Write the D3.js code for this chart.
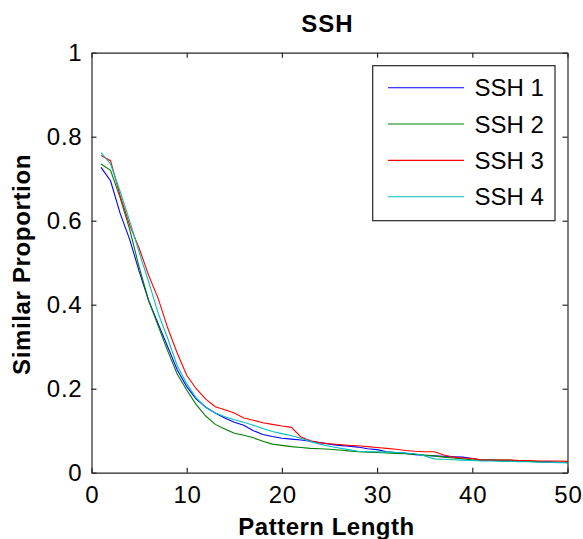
<!DOCTYPE html>
<html>
<head>
<meta charset="utf-8">
<script src="https://cdn.jsdelivr.net/npm/d3@7"></script>
<style>
  html, body { margin: 0; padding: 0; background: #fff; }
  svg { display: block; font-family: "Liberation Sans", Arial, sans-serif; }
</style>
</head>
<body>
<svg id="chart" width="583" height="539"></svg>
<script>
const title = "SSH";
const xLabel = "Pattern Length";
const yLabel = "Similar Proportion";
const seriesNames = ["SSH 1", "SSH 2", "SSH 3", "SSH 4"];
const seriesColors = ["#0000ff", "#008000", "#ff0000", "#00bfbf"];
const xTicks = [0, 10, 20, 30, 40, 50];
const yTicks = [0, 0.2, 0.4, 0.6, 0.8, 1];
const patternLength = d3.range(1, 51);

const ssh1 = [0.727, 0.695, 0.618, 0.556, 0.480, 0.410, 0.355, 0.300, 0.245, 0.205,
  0.175, 0.156, 0.142, 0.130, 0.120, 0.113, 0.100, 0.091, 0.086, 0.082,
  0.080, 0.078, 0.075, 0.072, 0.068, 0.065, 0.063, 0.061, 0.057, 0.055,
  0.050, 0.048, 0.046, 0.043, 0.041, 0.040, 0.039, 0.038, 0.037, 0.034,
  0.030, 0.030, 0.029, 0.028, 0.028, 0.027, 0.026, 0.026, 0.025, 0.025];
const ssh2 = [0.735, 0.720, 0.655, 0.580, 0.490, 0.410, 0.350, 0.290, 0.235, 0.197,
  0.162, 0.135, 0.115, 0.104, 0.094, 0.089, 0.083, 0.075, 0.068, 0.065,
  0.062, 0.060, 0.058, 0.057, 0.056, 0.054, 0.052, 0.050, 0.049, 0.048,
  0.047, 0.046, 0.045, 0.044, 0.042, 0.040, 0.037, 0.035, 0.033, 0.031,
  0.030, 0.030, 0.030, 0.030, 0.028, 0.027, 0.026, 0.025, 0.025, 0.024];
const ssh3 = [0.755, 0.743, 0.660, 0.590, 0.535, 0.470, 0.415, 0.345, 0.285, 0.232,
  0.200, 0.175, 0.157, 0.150, 0.142, 0.130, 0.125, 0.119, 0.115, 0.111,
  0.108, 0.085, 0.076, 0.071, 0.069, 0.067, 0.065, 0.064, 0.062, 0.060,
  0.058, 0.056, 0.053, 0.051, 0.050, 0.050, 0.042, 0.037, 0.035, 0.034,
  0.030, 0.030, 0.030, 0.030, 0.029, 0.029, 0.028, 0.028, 0.028, 0.027];
const ssh4 = [0.762, 0.735, 0.670, 0.600, 0.525, 0.455, 0.380, 0.320, 0.255, 0.212,
  0.178, 0.155, 0.142, 0.133, 0.126, 0.120, 0.113, 0.105, 0.098, 0.093,
  0.088, 0.082, 0.074, 0.068, 0.063, 0.059, 0.055, 0.051, 0.050, 0.050,
  0.049, 0.048, 0.047, 0.045, 0.040, 0.033, 0.032, 0.031, 0.030, 0.029,
  0.028, 0.028, 0.027, 0.027, 0.026, 0.026, 0.025, 0.025, 0.024, 0.024];
const seriesValues = [ssh1, ssh2, ssh3, ssh4];

const svg = d3.select("#chart");
const mLeft = 91.5, mRight = 567.5, mTop = 52.7, mBottom = 472.7;
const x = d3.scaleLinear().domain([0, 50]).range([mLeft, mRight]);
const y = d3.scaleLinear().domain([0, 1]).range([mBottom, mTop]);
const axisColor = "#262626";

// lines
const line = d3.line().x(d => x(d[0])).y(d => y(d[1]));
seriesValues.forEach((vals, i) => {
  svg.append("path")
    .datum(patternLength.map((p, j) => [p, vals[j]]))
    .attr("fill", "none")
    .attr("stroke", seriesColors[i])
    .attr("stroke-width", 1.1)
    .attr("d", line);
});

// axes (inward ticks, on all four sides)
const fmt = d => d3.format("~g")(d);
function styleAxis(g) {
  g.select(".domain").attr("stroke", axisColor).attr("stroke-width", 1.2);
  g.selectAll(".tick line").attr("stroke", axisColor).attr("stroke-width", 1.2);
  g.selectAll(".tick text").attr("fill", "#000").style("font-size", "24px")
    .style("letter-spacing", "0.8px")
    .style("font-family", "'Liberation Sans', Arial, sans-serif");
}
const gx = svg.append("g").attr("transform", `translate(0,${mBottom})`)
  .call(d3.axisBottom(x).tickValues(xTicks).tickFormat(fmt).tickSizeInner(-5).tickSizeOuter(0).tickPadding(12));
styleAxis(gx);
gx.selectAll(".tick text").attr("y", 30.5).attr("dy", 0).attr("dx", 0.4);
const gy = svg.append("g").attr("transform", `translate(${mLeft},0)`)
  .call(d3.axisLeft(y).tickValues(yTicks).tickFormat(fmt).tickSizeInner(-5).tickSizeOuter(0).tickPadding(10));
styleAxis(gy);
gy.selectAll(".tick text").attr("x", -9).attr("dy", 8);
const gt = svg.append("g").attr("transform", `translate(0,${mTop})`)
  .call(d3.axisTop(x).tickValues(xTicks).tickFormat("").tickSizeInner(-5).tickSizeOuter(0));
styleAxis(gt);
const gr = svg.append("g").attr("transform", `translate(${mRight},0)`)
  .call(d3.axisRight(y).tickValues(yTicks).tickFormat("").tickSizeInner(-5).tickSizeOuter(0));
styleAxis(gr);

// title and labels
svg.append("text").attr("x", 327.5).attr("y", 31.5).attr("text-anchor", "middle")
  .style("font-size", "24px").style("font-weight", "bold").style("letter-spacing", "1px").text(title);
svg.append("text").attr("x", 326.5).attr("y", 535).attr("text-anchor", "middle")
  .style("font-size", "24px").style("font-weight", "bold").style("letter-spacing", "0.5px").text(xLabel);
svg.append("text").attr("transform", `translate(29.5,264.5) rotate(-90)`)
  .attr("text-anchor", "middle")
  .style("font-size", "24px").style("font-weight", "bold").style("letter-spacing", "0.65px").text(yLabel);

// legend
const lg = svg.append("g");
lg.append("rect").attr("x", 372.7).attr("y", 65.7).attr("width", 182.3).attr("height", 155)
  .attr("fill", "#fff").attr("stroke", axisColor).attr("stroke-width", 1.2);
const legendY = d3.scalePoint().domain(seriesNames).range([87.7, 196.7]);
seriesNames.forEach((name, i) => {
  const yy = legendY(name);
  lg.append("line").attr("x1", 388).attr("x2", 464).attr("y1", yy).attr("y2", yy)
    .attr("stroke", seriesColors[i]).attr("stroke-width", 1.1);
  lg.append("text").attr("x", 474.5).attr("y", yy + 8.5).style("font-size", "24px").text(name);
});
</script>
</body>
</html>
